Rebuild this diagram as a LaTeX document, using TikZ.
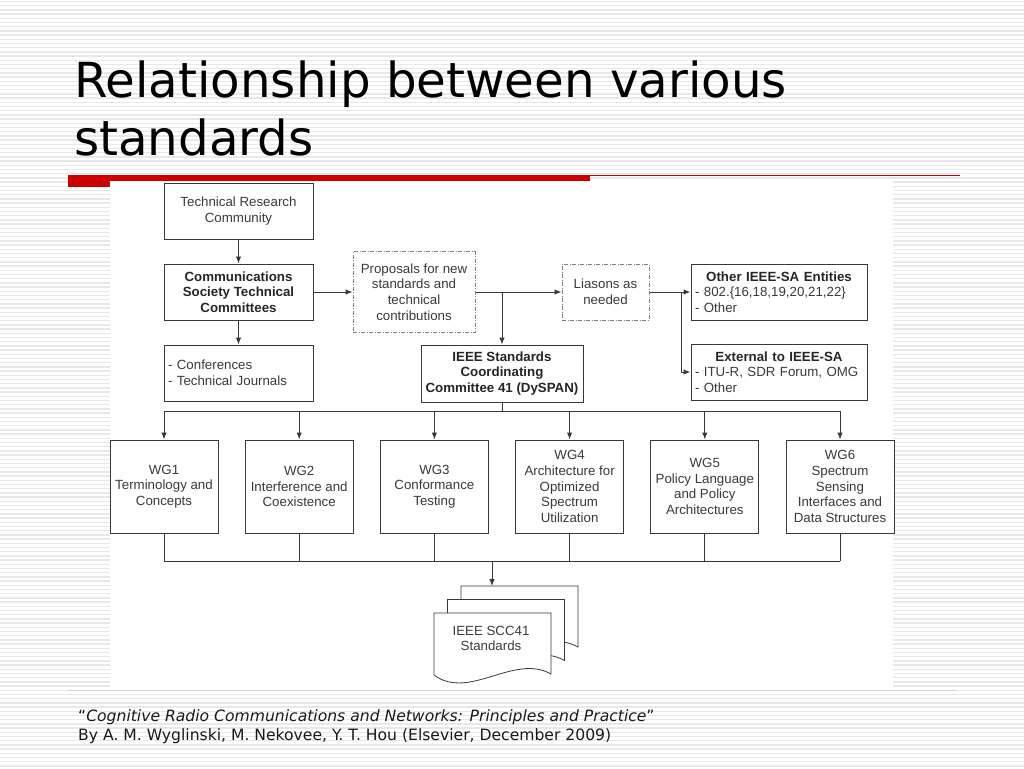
\documentclass[tikz,border=0pt]{standalone}
\usepackage{fontspec}
\setmainfont{Liberation Sans}
\newfontfamily\titlefont{DejaVu Sans}
\newfontfamily\citefont{DejaVu Sans}
\usetikzlibrary{arrows.meta}
\definecolor{linec}{HTML}{383838}
\definecolor{textc}{HTML}{3A3A3A}
\definecolor{barred}{HTML}{CC0000}
\definecolor{stripec}{HTML}{E8E8E8}
\definecolor{footc}{HTML}{D8CACA}

\begin{document}
\begin{tikzpicture}[x=1pt, y=-1pt, node distance={135.2pt},
  >={Latex[length=7pt,width=5.5pt]},
  box/.style={draw=linec, line width=1pt, fill=white, text=textc, inner sep=0pt,
    align=center, font=\fontsize{13.3}{15.7}\selectfont},
  main box/.style={box, minimum width=149pt, minimum height=56pt},
  bold box/.style={box, text=black!85, font=\fontsize{13.3}{15.7}\selectfont\bfseries},
  dash box/.style={box, draw=gray, dash pattern=on 4pt off 1.5pt on 1pt off 1.5pt},
  side box/.style={box, minimum width=176pt, minimum height=56pt, text width=168pt, align=left},
  wg box/.style={box, minimum width=108pt, minimum height=93pt},
  doc/.style={draw=linec, line width=0.8pt, fill=white},
  link/.style={draw=linec, line width=1pt}]
  \useasboundingbox (0,0) rectangle (1024,768);
  \fill[white] (0,0) rectangle (1024,768);
  \foreach \s in {1.5,5.7,...,768} \draw[stripec, line width=1.4pt] (0,\s) -- (1024,\s);

  % title and red rule
  \node (title1) [anchor=base west, inner sep=0pt, font=\titlefont\fontsize{48.3}{58}\selectfont] at (74,97) {Relationship between various};
  \node (title2) [anchor=base west, inner sep=0pt, font=\titlefont\fontsize{48.3}{58}\selectfont] at (74,155) {standards};
  \fill[barred] (68,175) rectangle (590,187);
  \draw[barred, line width=1.4pt] (590,175.7) -- (960,175.7);

  % the figure
  \fill[white] (110,181) rectangle (893,690);

  \node (trc) [main box] at (238.5,211) {Technical Research\\Community};
  \node (cstc) [main box, bold box] at (238.5,292) {Communications\\Society Technical\\Committees};
  \node (conf) [main box, text width=141pt, align=left] at (238.5,373) {- Conferences\\- Technical Journals};
  \node (prop) [dash box, minimum width=122pt, minimum height=81pt] at (414,292) {Proposals for new\\standards and\\technical\\contributions};
  \node (lias) [dash box, minimum width=87pt, minimum height=56pt] at (605.5,292) {Liasons as\\needed};
  \node (other) [side box] at (779,292) {\makebox[168pt]{\bfseries\color{black!85}Other IEEE-SA Entities}\\- 802.\{16,18,19,20,21,22\}\\- Other};
  \node (ext) [side box] at (779,372) {\makebox[168pt]{\bfseries\color{black!85}External to IEEE-SA}\\- ITU-R, SDR Forum, OMG\\- Other};
  \node (scc) [box, bold box, minimum width=162pt, minimum height=57pt] at (502,373.5) {IEEE Standards\\Coordinating\\Committee 41 (DySPAN)};

  \node (wg1) [wg box] at (164,486.5) {WG1\\Terminology and\\Concepts};
  \node (wg2) [wg box, right of=wg1] {WG2\\Interference and\\Coexistence};
  \node (wg3) [wg box, right of=wg2] {WG3\\Conformance\\Testing};
  \node (wg4) [wg box, right of=wg3] {WG4\\Architecture for\\Optimized\\Spectrum\\Utilization};
  \node (wg5) [wg box, right of=wg4] {WG5\\Policy Language\\and Policy\\Architectures};
  \node (wg6) [wg box, right of=wg5] {WG6\\Spectrum\\Sensing\\Interfaces and\\Data Structures};

  % stacked documents
  \foreach \d in {2,1,0}
    \draw[doc, shift={(13.5*\d,-13.5*\d)}] (434,613) -- (551,613) -- (551,674)
      .. controls (514,653) and (469,701) .. (434,675) -- cycle;
  \node (std) [text=textc, align=center, font=\fontsize{13.3}{15.7}\selectfont] at (491,638.5) {IEEE SCC41\\Standards};
  \coordinate (stdtop) at (492,586);

  \coordinate (j1) at (502,292);
  \coordinate (j2) at (681,292);
  \coordinate (bus1) at (502,411);
  \coordinate (bus2) at (492,561);

  \draw[link, ->] (trc) to (cstc);
  \draw[link, ->] (cstc) to (conf);
  \draw[link, ->] (cstc) to (prop);
  \draw[link, ->] (prop) to (lias);
  \draw[link, ->] (j1) to (scc);
  \draw[link, ->] (lias) to (other);
  \draw[link, ->] (j2) |- (ext.west);

  \draw[link] (scc) to (bus1);
  \draw[link] (wg1.north |- bus1) -- (wg6.north |- bus1);
  \foreach \w in {1,...,6}
    \draw[link, ->] (wg\w.north |- bus1) -- (wg\w.north);
  \foreach \w in {1,...,6}
    \draw[link] (wg\w.south) -- (wg\w.south |- bus2);
  \draw[link] (wg1.south |- bus2) -- (wg6.south |- bus2);
  \draw[link, ->] (bus2) to (stdtop);

  % footer
  \draw[footc, line width=1pt] (68,690.5) -- (956,690.5);
  \node (cite1) [anchor=base west, inner sep=0pt, text=black!90, font=\citefont\fontsize{15.6}{18}\selectfont] at (78,721) {“\textit{Cognitive Radio Communications and Networks: Principles and Practice}”};
  \node (cite2) [anchor=base west, inner sep=0pt, text=black!90, font=\citefont\fontsize{15.6}{18}\selectfont] at (78,740) {By A. M. Wyglinski, M. Nekovee, Y. T. Hou (Elsevier, December 2009)};
\end{tikzpicture}
\end{document}
